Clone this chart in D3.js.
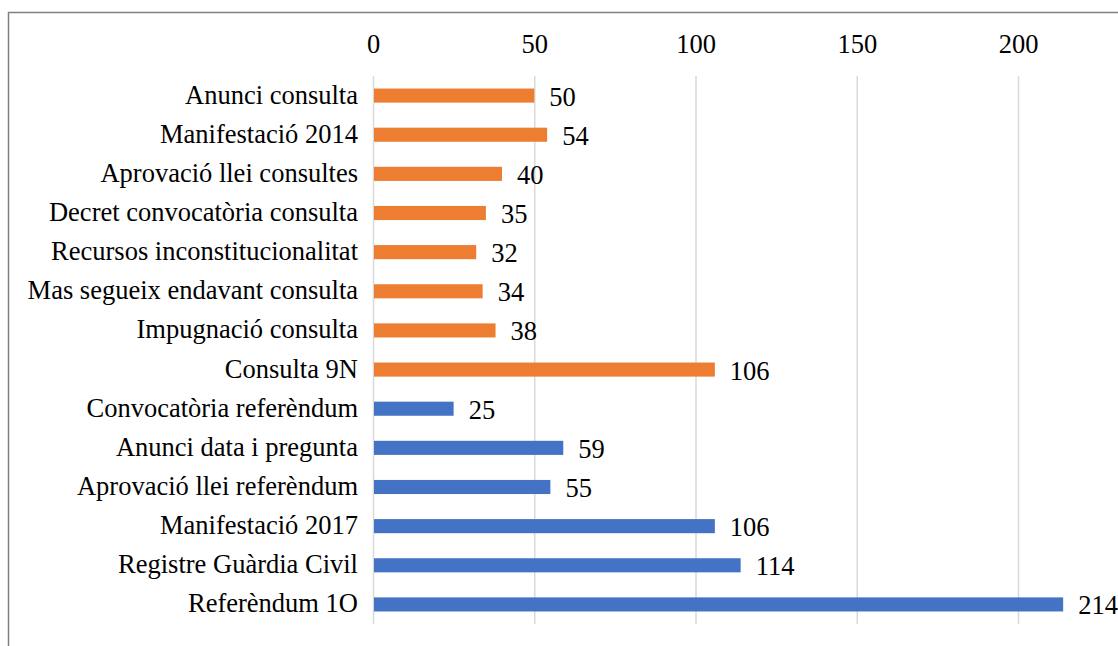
<!DOCTYPE html>
<html>
<head>
<meta charset="utf-8">
<script src="https://cdn.jsdelivr.net/npm/d3@7"></script>
<style>
  body { margin: 0; background: #fff; }
  svg text { font-family: "Liberation Serif", "Times New Roman", serif; fill: #000; }
</style>
</head>
<body>
<div id="chart"></div>
<script>
const categories = [
  'Anunci consulta', 'Manifestació 2014', 'Aprovació llei consultes',
  'Decret convocatòria consulta', 'Recursos inconstitucionalitat',
  'Mas segueix endavant consulta', 'Impugnació consulta', 'Consulta 9N',
  'Convocatòria referèndum', 'Anunci data i pregunta', 'Aprovació llei referèndum',
  'Manifestació 2017', 'Registre Guàrdia Civil', 'Referèndum 1O'
];
const values = [50, 54, 40, 35, 32, 34, 38, 106, 25, 59, 55, 106, 114, 214];
const groups = ['2014', '2014', '2014', '2014', '2014', '2014', '2014', '2014',
  '2017', '2017', '2017', '2017', '2017', '2017'];
const ticks = [0, 50, 100, 150, 200];

const width = 1118, height = 646;
const FONT = '26.5px';
const COLORS = { '2014': '#ED7D31', '2017': '#4472C4' };

const svg = d3.select('#chart').append('svg')
  .attr('width', width).attr('height', height);

// frame
svg.append('path')
  .attr('d', `M8.5,${height} V12.5 H${width}`)
  .attr('fill', 'none')
  .attr('stroke', '#808080')
  .attr('stroke-width', 1.5);

const x = d3.scaleLinear().domain([0, 200]).range([373, 1018]);
const y = d3.scaleBand().domain(categories).range([76, 624]).paddingInner(0.64).paddingOuter(0.32);

// gridlines
svg.append('g')
  .selectAll('line')
  .data(ticks)
  .enter()
  .append('line')
  .attr('x1', d => x(d) + 0.5).attr('x2', d => x(d) + 0.5)
  .attr('y1', 76).attr('y2', 624)
  .attr('stroke', '#d9d9d9')
  .attr('stroke-width', 1.5);

// top axis labels
svg.append('g')
  .attr('transform', 'translate(0,53)')
  .call(d3.axisTop(x).tickValues(ticks).tickSize(0).tickPadding(0))
  .call(g => g.select('.domain').remove())
  .selectAll('text')
  .attr('dy', 0)
  .style('font-size', FONT)
  .style('font-family', '"Liberation Serif", serif')
  .attr('fill', '#000');

// category labels
svg.append('g')
  .attr('transform', 'translate(358,0)')
  .call(d3.axisLeft(y).tickSize(0).tickPadding(0))
  .call(g => g.select('.domain').remove())
  .selectAll('text')
  .attr('dy', 0)
  .attr('y', 8)
  .style('font-size', FONT)
  .style('font-family', '"Liberation Serif", serif')
  .attr('fill', '#000');

const data = categories.map((c, i) => ({ cat: c, value: values[i], group: groups[i] }));

svg.append('g')
  .selectAll('rect')
  .data(data)
  .enter()
  .append('rect')
  .attr('x', x(0) + 1)
  .attr('y', d => y(d.cat))
  .attr('width', d => x(d.value) - x(0) - 1)
  .attr('height', y.bandwidth())
  .attr('fill', d => COLORS[d.group]);

svg.append('g')
  .selectAll('text')
  .data(data)
  .enter()
  .append('text')
  .attr('x', d => x(d.value) + 15)
  .attr('y', d => y(d.cat) + y.bandwidth() / 2 + 10)
  .style('font-size', FONT)
  .text(d => d.value);
</script>
</body>
</html>
